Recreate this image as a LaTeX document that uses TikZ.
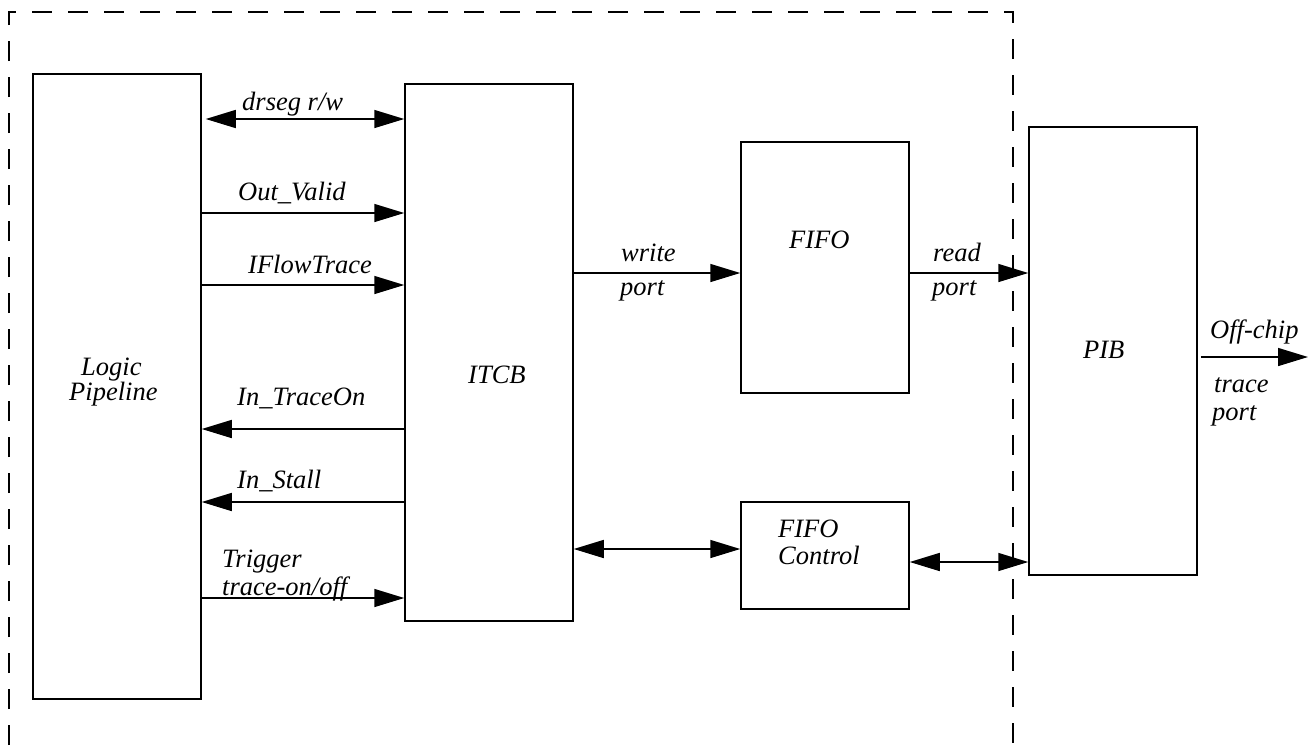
\documentclass[tikz,border=0pt]{standalone}
\usepackage{fontspec}
\setmainfont{Liberation Serif}
\usetikzlibrary{arrows.meta}
\begin{document}
\begin{tikzpicture}[x=1pt,y=-1pt,
  box/.style={draw,line width=1.5pt,inner sep=0pt,minimum width=168pt},
  lbl/.style={inner sep=0pt,anchor=base west,font=\fontsize{26.5}{29}\selectfont\itshape},
  conn/.style={line width=1.5pt},
  tip/.style={-{Triangle[length=30pt,width=18pt]}},
  dtip/.style={{Triangle[length=30pt,width=18pt]}-{Triangle[length=30pt,width=18pt]}},
  chipedge/.style={line width=1.5pt,dash pattern=on 20pt off 16pt}]
\useasboundingbox (0,0) rectangle (1309,745);
\draw[chipedge] (9,745) -- (9,12) -- (1013,12) -- (1013,745);
% boxes
\node[box,minimum height=625pt] (LP) at (117,386.5) {};
\node[box,minimum height=537pt] (ITCB) at (489,352.5) {};
\node[box,minimum height=251pt] (FIFO) at (825,267.5) {};
\node[box,minimum height=107pt] (FC) at (825,555.5) {};
\node[box,minimum height=448pt] (PIB) at (1113,351) {};
\coordinate (out) at (1308,357);
% box labels
\node[lbl] (tLP1) at (81,375) {Logic};
\node[lbl] (tLP2) at (69,400) {Pipeline};
\node[lbl] (tITCB) at (468,383) {ITCB};
\node[lbl] (tFIFO) at (789,248) {FIFO};
\node[lbl] (tFC1) at (778,537) {FIFO};
\node[lbl] (tFC2) at (778,564) {Control};
\node[lbl] (tPIB) at (1083,358) {PIB};
% connectors
\draw[conn,dtip] ([xshift=4pt]LP.east |- 0,119) -- (ITCB.west |- 0,119);
\draw[conn,tip] (LP.east |- 0,213) -- (ITCB.west |- 0,213);
\draw[conn,tip] (LP.east |- 0,285) -- (ITCB.west |- 0,285);
\draw[conn,tip] (ITCB.west |- 0,429) -- (LP.east |- 0,429);
\draw[conn,tip] (ITCB.west |- 0,502) -- (LP.east |- 0,502);
\draw[conn,tip] (LP.east |- 0,598) -- (ITCB.west |- 0,598);
\draw[conn,tip] (ITCB.east |- 0,273) -- (FIFO.west |- 0,273);
\draw[conn,tip] (FIFO.east |- 0,273) -- (PIB.west |- 0,273);
\draw[conn,dtip] (ITCB.east |- 0,549) -- (FC.west |- 0,549);
\draw[conn,dtip] (FC.east |- 0,562) -- (PIB.west |- 0,562);
\draw[conn,tip] ([xshift=3pt]PIB.east |- 0,357) -- (out);
% connector labels
\node[lbl] (l1) at (242,110) {drseg r/w};
\node[lbl] (l2) at (238,200) {Out\_Valid};
\node[lbl] (l3) at (248,273) {IFlowTrace};
\node[lbl] (l4) at (237,405) {In\_TraceOn};
\node[lbl] (l5) at (237,488) {In\_Stall};
\node[lbl] (l6) at (222,567) {Trigger};
\node[lbl] (l7) at (222,595) {trace-on/off};
\node[lbl] (l8) at (621,261) {write};
\node[lbl] (l9) at (620,295) {port};
\node[lbl] (l10) at (933,261) {read};
\node[lbl] (l11) at (932,295) {port};
\node[lbl] (l12) at (1210,338) {Off-chip};
\node[lbl] (l13) at (1214,392) {trace};
\node[lbl] (l14) at (1212,420) {port};
\end{tikzpicture}
\end{document}
